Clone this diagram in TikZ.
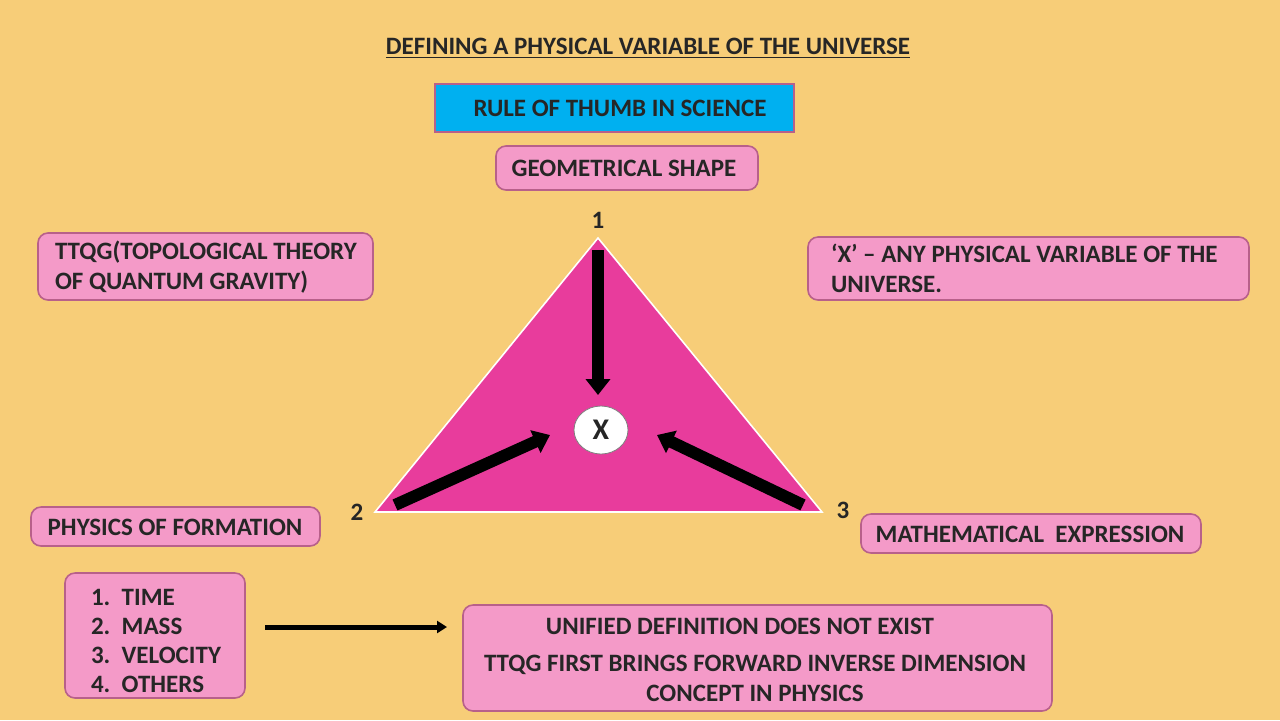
\documentclass[tikz,border=0pt]{standalone}
\usepackage{fontspec}
\setmainfont{Carlito}
\usetikzlibrary{arrows.meta,shapes.geometric}
\definecolor{bgyel}{HTML}{F7CD78}
\definecolor{boxpink}{HTML}{F49AC8}
\definecolor{boxedge}{HTML}{B8608A}
\definecolor{tripink}{HTML}{E83C9C}
\definecolor{skyblue}{HTML}{00B0F0}
\begin{document}
\begin{tikzpicture}[
  x=0.5pt,y=-0.5pt,
  >={Triangle[length=8pt,width=12pt]},
  every node/.style={font=\bfseries\fontsize{12.5}{15}\selectfont,text=black!85},
  pinkbox/.style={draw=boxedge,thick,fill=boxpink,rounded corners=5pt,inner sep=0pt},
  fatarrow/.style={->,line width=6pt,black}
]

\fill[bgyel] (0,0) rectangle (1280,720);
\useasboundingbox (0,0) rectangle (1280,720);

% heading
\node (title) at (648,48) {\underline{DEFINING A PHYSICAL VARIABLE OF THE UNIVERSE}};
\draw[draw=boxedge,thick,fill=skyblue] (435,84) rectangle (794,132);
\node (rule) at (620,108) {RULE OF THUMB IN SCIENCE};
\draw[pinkbox] (496,146) rectangle (758,190);
\node (shape) at (624,168) {GEOMETRICAL SHAPE};

% triangle
\coordinate (top) at (598,238);
\coordinate (left) at (375,512);
\coordinate (right) at (822,512);
\fill[tripink] (top) -- (left) -- (right) -- cycle;
\draw[white,thick] (top) -- (left) -- (right) -- cycle;
\node (n1) at (598,220) {1};
\node (n2) at (357,512) {2};
\node (n3) at (843,510) {3};
\node[draw=black!50,fill=white,ellipse,minimum width=27pt,minimum height=24pt,inner sep=0pt,
  font=\bfseries\fontsize{15}{15}\selectfont] (x) at (601,430) {X};
\coordinate (a1) at (598,250);
\coordinate (a2) at (395,505);
\coordinate (a3) at (803,505);
\draw[fatarrow] (a1) -- (598,395);
\draw[fatarrow] (a2) -- (550,435);
\draw[fatarrow] (a3) -- (657,435);

% side boxes
\draw[pinkbox] (38,233) rectangle (373,300);
\node[align=left,anchor=west] (ttqg) at (48,267) {TTQG(TOPOLOGICAL THEORY\\OF QUANTUM GRAVITY)};
\draw[pinkbox] (808,237) rectangle (1249,300);
\node[align=left,anchor=west] (xdef) at (824,268) {‘X’ -- ANY PHYSICAL VARIABLE OF THE\\UNIVERSE.};
\draw[pinkbox] (31,507) rectangle (320,546);
\node (phys) at (175,527) {PHYSICS OF FORMATION};
\draw[pinkbox] (861,514) rectangle (1201,553);
\node (math) at (1030,534) {MATHEMATICAL\ \ EXPRESSION};

% bottom
\draw[pinkbox] (65,573) rectangle (245,698);
\node[align=left,anchor=west,font=\bfseries\fontsize{12.5}{14.6}\selectfont] (list) at (84,641)
  {1.\ \ TIME\\2.\ \ MASS\\3.\ \ VELOCITY\\4.\ \ OTHERS};
\draw[pinkbox] (463,605) rectangle (1052,711);
\node (unif) at (740,626) {UNIFIED DEFINITION DOES NOT EXIST};
\node[align=center] (inv) at (755,678) {TTQG FIRST BRINGS FORWARD INVERSE DIMENSION\\CONCEPT IN PHYSICS};
\coordinate (b1) at (265,627);
\draw[->,line width=2.5pt,>={Triangle[length=5pt,width=6pt]}] (b1) -- (447,627);

\end{tikzpicture}
\end{document}
